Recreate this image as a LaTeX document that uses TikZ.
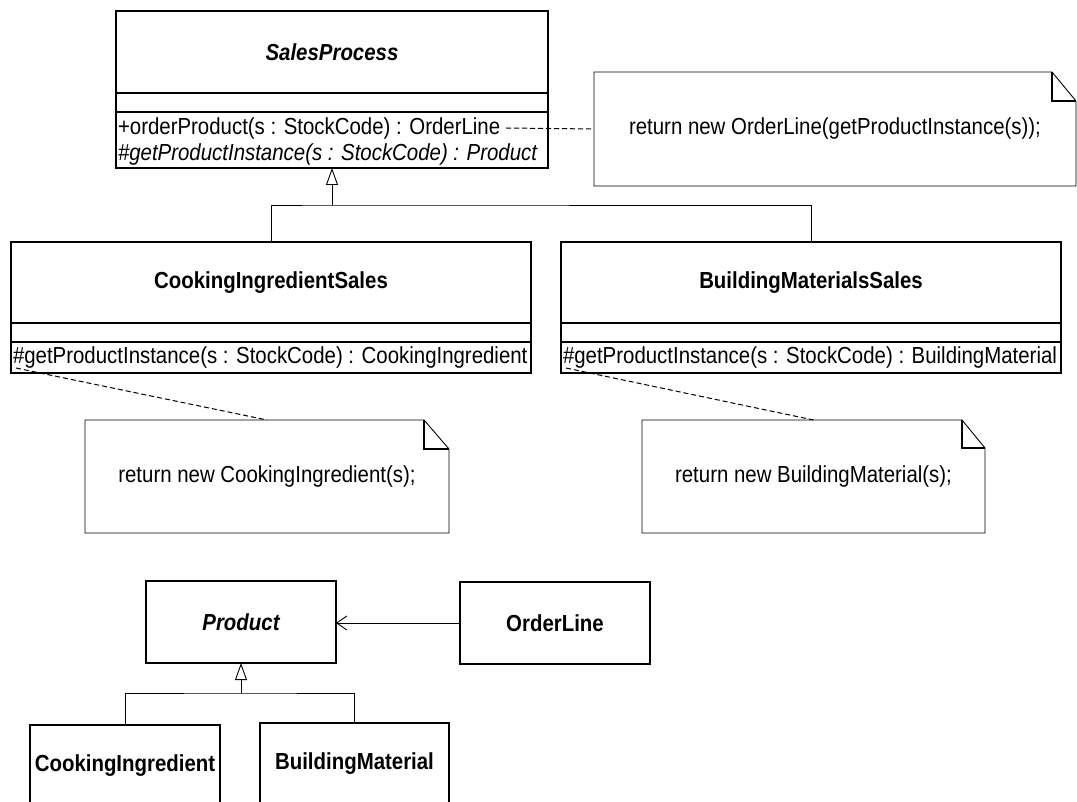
\documentclass[tikz,border=0pt]{standalone}
\usepackage{fontspec}
\setmainfont{Liberation Sans}[FakeStretch=0.88]
\usetikzlibrary{arrows.meta,calc}
\newcommand\umlfont{\fontsize{23.2}{27}\selectfont}
\newcommand\umlnote[3]{%
  \draw[noteline] (#1.north west) -- ([xshift=-#2pt]#1.north east) -- ([yshift=-#3pt]#1.north east) -- (#1.south east) -- (#1.south west) -- cycle;
  \draw[notefold] ([xshift=-#2pt]#1.north east) |- ([yshift=-#3pt]#1.north east);}
\begin{document}
\begin{tikzpicture}[x=1pt,y=1pt,
  box/.style={draw,line width=1.6pt,inner sep=0pt,outer sep=0pt,anchor=north west,font=\umlfont},
  cname/.style={box,font=\umlfont\bfseries},
  absname/.style={box,font=\umlfont\bfseries\itshape},
  optext/.style={inner sep=0pt,outer sep=0pt,anchor=west,font=\umlfont},
  opitext/.style={optext,font=\umlfont\itshape},
  notebox/.style={inner sep=0pt,outer sep=0pt,anchor=north west,font=\umlfont},
  conn/.style={line width=0.8pt},
  noteline/.style={line width=0.9pt},
  notefold/.style={line width=1.5pt},
  gen/.style={conn,-{Triangle[open,width=12pt,length=17pt,line width=0.9pt]}},
  assoc/.style={conn,-{Straight Barb[width=14pt,length=10pt,line width=0.9pt]}},
  anchorline/.style={line width=1pt,dash pattern=on 5pt off 3pt}
]
\clip (0,0) rectangle (1077,-802);
\fill[white] (0,0) rectangle (1077,-802);

% SalesProcess
\node[absname,minimum width=432pt,minimum height=82pt] (spName) at (116,-11) {SalesProcess};
\node[box,minimum width=432pt,minimum height=19pt] (spAttr) at (spName.south west) {};
\node[box,minimum width=432pt,minimum height=56pt] (spOps) at (spAttr.south west) {};
\node[optext] (spOp1) at (118,-128) {+orderProduct(s : StockCode) : OrderLine};
\node[opitext] (spOp2) at (118,-155) {\#getProductInstance(s : StockCode) : Product};

% Note 1
\node[notebox,minimum width=482pt,minimum height=114pt] (note1) at (594,-72) {return new OrderLine(getProductInstance(s));};
\umlnote{note1}{24}{29}
\draw[anchorline] ([xshift=6pt]spOp1.east) -- (note1.west);

% CookingIngredientSales
\node[cname,minimum width=520pt,minimum height=81pt] (ciName) at (11,-242) {CookingIngredientSales};
\node[box,minimum width=520pt,minimum height=19pt] (ciAttr) at (ciName.south west) {};
\node[box,minimum width=520pt,minimum height=31pt] (ciOps) at (ciAttr.south west) {};
\node[optext] (ciOp) at (13,-358) {\#getProductInstance(s : StockCode) : CookingIngredient};

% BuildingMaterialsSales
\node[cname,minimum width=500pt,minimum height=81pt] (bmName) at (561,-242) {BuildingMaterialsSales};
\node[box,minimum width=500pt,minimum height=19pt] (bmAttr) at (bmName.south west) {};
\node[box,minimum width=500pt,minimum height=31pt] (bmOps) at (bmAttr.south west) {};
\node[optext] (bmOp) at (563,-358) {\#getProductInstance(s : StockCode) : BuildingMaterial};

% Generalization to SalesProcess
\coordinate (j1) at ($(spOps.south)+(0,-37)$);
\draw[conn] (ciName.north) |- (j1) -| (bmName.north);
\draw[gen] (j1) -- (spOps.south);

% Notes 2 and 3
\node[notebox,minimum width=364pt,minimum height=113pt] (note2) at (85,-420) {return new CookingIngredient(s);};
\umlnote{note2}{25}{29}
\node[notebox,minimum width=343pt,minimum height=113pt] (note3) at (642,-420) {return new BuildingMaterial(s);};
\umlnote{note3}{23}{28}
\draw[anchorline] ([shift={(5pt,5pt)}]ciOps.south west) -- (note2.north);
\draw[anchorline] ([shift={(5pt,5pt)}]bmOps.south west) -- (note3.north);

% Product hierarchy
\node[absname,minimum width=190pt,minimum height=82pt] (prod) at (146,-581) {Product};
\node[cname,minimum width=190pt,minimum height=82pt] (ol) at (460,-582) {OrderLine};
\draw[assoc] (ol.west) -- (ol.west -| prod.east);
\node[cname,minimum width=190pt,minimum height=82pt] (ci) at (30,-725) {CookingIngredient};
\node[cname,minimum width=189pt,minimum height=82pt] (bm) at (260,-723) {BuildingMaterial};
\coordinate (j2) at ($(prod.south)+(0,-30)$);
\draw[conn] (ci.north) |- (j2) -| (bm.north);
\draw[gen] (j2) -- (prod.south);
\end{tikzpicture}
\end{document}
